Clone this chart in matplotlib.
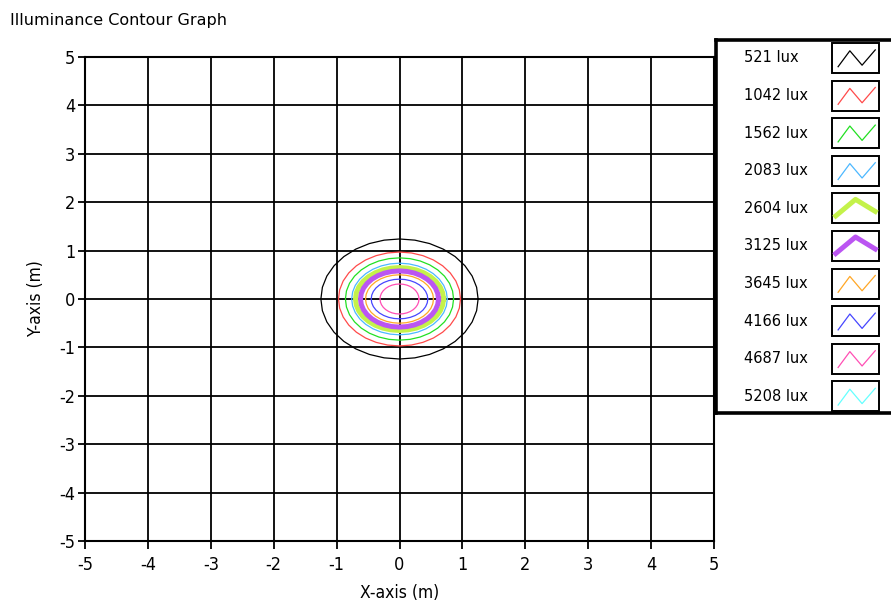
import numpy as np
import matplotlib
matplotlib.use('Agg')
import matplotlib.pyplot as plt
from matplotlib.patches import Rectangle

plt.rcParams['axes.unicode_minus'] = False

# contour levels (lux) and their semi-axes in metres
levels = [521, 1042, 1562, 2083, 2604, 3125, 3645, 4166, 4687, 5208]
rx = [1.25, 0.97, 0.86, 0.76, 0.70, 0.62, 0.54, 0.45, 0.31, None]
ry = [1.24, 0.97, 0.85, 0.74, 0.65, 0.58, 0.50, 0.41, 0.31, None]
colors = ['#000000', '#ff4a4a', '#22e022', '#4cb8ff', '#c4f24a',
          '#bb55f2', '#ffa726', '#4646ff', '#ff4fb4', '#66ffff']
widths = [0.9, 0.9, 0.9, 0.9, 3.6, 3.6, 0.9, 0.9, 0.9, 0.9]
ticks = [-5, -4, -3, -2, -1, 0, 1, 2, 3, 4, 5]

cond = dict(family='DejaVu Sans', stretch='condensed')

W, H = 891, 610
fig = plt.figure(figsize=(W / 100, H / 100), dpi=100)
ax = fig.add_axes([85 / W, 1 - 541 / H, 629 / W, 484 / H])

t = np.linspace(0, 2 * np.pi, 33)
for lv, a, b, c, lw in zip(levels, rx, ry, colors, widths):
    if a is None:
        continue
    ax.plot(a * np.cos(t), b * np.sin(t), color=c, lw=lw, zorder=3)

ax.set_xlim(-5, 5)
ax.set_ylim(-5, 5)
ax.set_xticks(ticks)
ax.set_yticks(ticks)
ax.set_xticklabels([str(v) for v in ticks], fontsize=13, **cond)
ax.set_yticklabels([str(v) for v in ticks], fontsize=13, **cond)
ax.grid(True, color='black', lw=1.3, zorder=1)
ax.set_axisbelow(True)
for s in ax.spines.values():
    s.set_linewidth(1.5)
ax.tick_params(axis='x', direction='out', length=6, width=1.3, pad=5)
ax.tick_params(axis='y', direction='out', length=5, width=1.3, pad=2)
ax.set_xlabel('X-axis (m)', fontsize=12.5, labelpad=7, **cond)
ax.set_ylabel('Y-axis (m)', fontsize=12.5, labelpad=10, **cond)
fig.text(10 / W, 1 - 20 / H, 'Illuminance Contour Graph', fontsize=11.5,
         va='center', ha='left')

# legend panel
lg = fig.add_axes([716 / W, 1 - 413 / H, 190 / W, 373 / H])
lg.set_xlim(0, 190)
lg.set_ylim(373, 0)
lg.set_xticks([])
lg.set_yticks([])
for s in lg.spines.values():
    s.set_linewidth(2.6)

zig_thin = ([0.13, 0.38, 0.64, 0.92], [0.21, 0.74, 0.26, 0.77])
zig_thick = ([0.08, 0.5, 0.92], [0.25, 0.8, 0.4])
bw, bh = 47, 30
for i, (lv, c, lw) in enumerate(zip(levels, colors, widths)):
    yc = 18 + i * 37.6
    lg.text(28, yc, f'{lv} lux', fontsize=10.5, va='center', ha='left')
    x0, y0 = 116, yc - bh / 2
    lg.add_patch(Rectangle((x0, y0), bw, bh, fill=False, ec='black', lw=1.4))
    zx, zy = zig_thick if lw > 2 else zig_thin
    lg.plot([x0 + bw * v for v in zx], [y0 + bh * (1 - v) for v in zy],
            color=c, lw=lw)

fig.savefig('out.png', dpi=100)
